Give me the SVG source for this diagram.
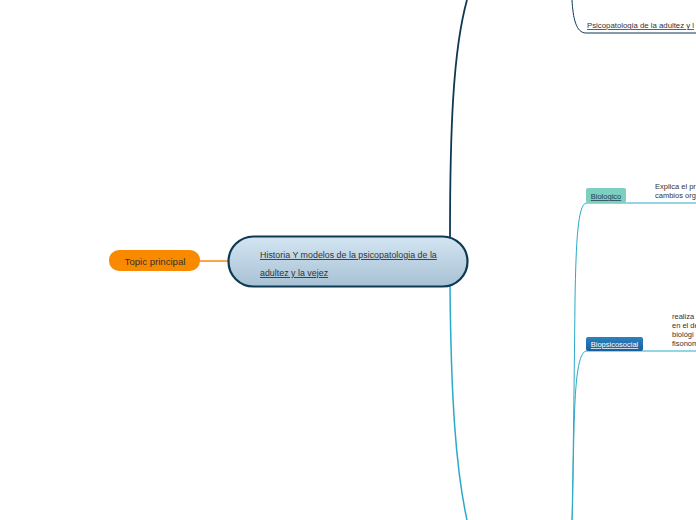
<svg xmlns="http://www.w3.org/2000/svg" width="696" height="520" viewBox="0 0 696 520">
<defs>
<linearGradient id="gMain" x1="0" y1="0" x2="0" y2="1">
<stop offset="0" stop-color="#d3e5f2"/>
<stop offset="1" stop-color="#a7c1d4"/>
</linearGradient>
<linearGradient id="gBlue" x1="0" y1="0" x2="0" y2="1">
<stop offset="0" stop-color="#2c82c0"/>
<stop offset="1" stop-color="#17609b"/>
</linearGradient>
</defs>
<style>
text{font-family:"Liberation Sans",Arial,sans-serif;}
.lbl{font-size:8.9px;fill:#333;}
.u{text-decoration:underline;}
.note{font-size:7.5px;fill:#333;}
.navy{fill:none;stroke:#0d3a52;}
.teal{fill:none;stroke:#2ba9c8;}
</style>
<rect width="696" height="520" fill="#ffffff"/>
<g id="connectors">
<path class="navy" stroke-width="1.8" d="M450,237 C450,130 453,50 467,0"/>
<path class="navy" stroke-width="1" d="M572,0 C573,18 576,33 586,33 L696,33"/>
<path d="M200,261 L229,261" fill="none" stroke="#f98a0c" stroke-width="1.5"/>
<path class="teal" stroke-width="1.5" d="M450,286 C451,400 456,470 467,520"/>
<path class="teal" stroke-width="1" d="M586,203 C578,205 576,240 575,300 C574,400 573,470 572,520"/>
<path class="teal" stroke-width="1" d="M586,351 C577,353 575,390 574,430 C573,470 573,500 572,520"/>
<path class="teal" stroke-width="1" d="M586,203 L696,203"/>
<path class="teal" stroke-width="1" d="M586,351 L696,351"/>
</g>
<g id="main">
<rect x="228.5" y="236.5" width="239" height="50" rx="25" fill="url(#gMain)" stroke="#0d3a52" stroke-width="2.2"/>
<text class="lbl u" x="260" y="258">Historia Y modelos  de la psicopatologia de la </text>
<text class="lbl u" x="260" y="276">adultez y la vejez</text>
</g>
<g id="topic">
<rect x="109" y="250" width="91" height="21" rx="10" fill="#f98a00"/>
<text x="155" y="264.5" font-size="9.6" fill="#333" text-anchor="middle">Topic principal</text>
</g>
<g id="psico">
<text x="587" y="28" font-size="7.8" fill="#333" class="u">Psicopatologia de la adultez y l</text>
</g>
<g id="biologico">
<rect x="586" y="188" width="40" height="15" rx="2" fill="#7dcfc0"/>
<text x="606" y="199" font-size="7.5" fill="#1e3c4a" text-anchor="middle" class="u">Biologico</text>
<text class="note" x="655" y="189">Explica el pr</text>
<text class="note" x="655" y="198">cambios org</text>
</g>
<g id="biopsicosocial">
<rect x="586" y="337" width="57" height="14" rx="2" fill="url(#gBlue)"/>
<text x="614.5" y="347" font-size="7.5" fill="#ffffff" text-anchor="middle" class="u">Biopsicosocial</text>
<text class="note" x="672" y="319">realiza</text>
<text class="note" x="672" y="328">en el de</text>
<text class="note" x="672" y="337">biológi</text>
<text class="note" x="672" y="346">fisonom</text>
</g>
</svg>
